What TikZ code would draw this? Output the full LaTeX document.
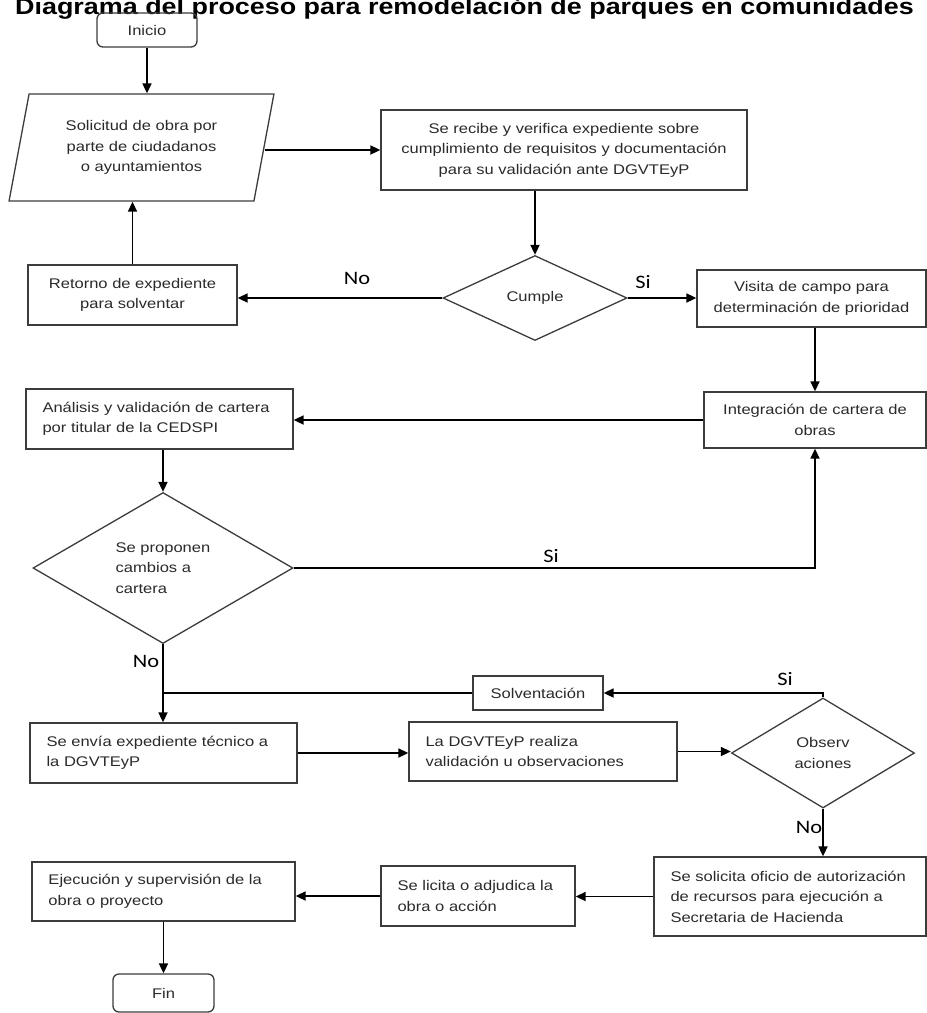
\documentclass[tikz,border=0pt]{standalone}
\usepackage{fontspec}
\setmainfont{Liberation Sans}[FakeStretch=1.18]
\newfontfamily\lblfont{Carlito}[FakeStretch=1.18]
\usepackage{tikz}
\usetikzlibrary{positioning,arrows.meta,shapes.geometric}
\definecolor{edge}{HTML}{3C3C3C}
\definecolor{ink}{HTML}{2A2A2A}

\begin{document}
\begin{tikzpicture}[
  x=1pt, y=-1pt,
  font=\fontsize{14}{20.5}\selectfont,
  proc/.style={draw=edge, line width=1.3pt, text=ink, align=center, inner sep=0pt},
  procl/.style={proc, align=left, inner xsep=16.5pt},
  term/.style={proc, rounded corners=6pt},
  decis/.style={proc, diamond, aspect=1.7},
  entrada/.style={proc, trapezium, trapezium left angle=76, trapezium right angle=104, trapezium stretches=true},
  arr/.style={-{Triangle[length=10pt,width=9pt]}, line width=1.7pt, black},
  lin/.style={line width=1.7pt, black},
  lbl/.style={font=\lblfont\fontsize{19}{19}\selectfont, anchor=base, inner sep=0pt}
]
\useasboundingbox (0,0) rectangle (927,1013);
\clip (0,0) rectangle (927,1013);
\fill[white] (0,0) rectangle (927,1013);
% title, cut by the top edge
\node[font=\bfseries\fontsize{22.8}{24}\selectfont, anchor=base west, inner sep=0pt] (titulo) at (15,14) {Diagrama del proceso para remodelación de parques en comunidades};
% top: request and check
\node[term, minimum width=100pt, minimum height=34pt] (inicio) at (147,30) {Inicio};
\node[entrada, minimum width=265pt, minimum height=107pt] (solic) at (141.5,147.5) {Solicitud de obra por\\parte de ciudadanos\\o ayuntamientos};
\node[proc, minimum width=366pt, minimum height=80pt] (recibe) at (564,150) {Se recibe y verifica expediente sobre\\cumplimiento de requisitos y documentación\\para su validación ante DGVTEyP};
\node[decis, minimum width=184pt, minimum height=85pt] (cumple) at (535,298) {Cumple};
\node[proc, minimum width=209pt, minimum height=60pt] (retorno) at (132.5,295) {Retorno de expediente\\para solventar};
\node[proc, minimum width=229pt, minimum height=57pt] (visita) at (811.5,298.5) {Visita de campo para\\determinación de prioridad};
% middle: portfolio
\node[proc, minimum width=222pt, minimum height=56pt] (integ) at (815,420) {Integración de cartera de\\obras};
\node[procl, text width=234pt, minimum height=60pt] (analisis) at (159.5,419) {Análisis y validación de cartera\\por titular de la CEDSPI};
\node[decis, align=left, minimum width=260pt, minimum height=151pt] (propone) at (163,568) {Se proponen\\cambios a\\cartera};
% lower: validation loop
\node[procl, text width=234pt, minimum height=60pt] (envia) at (163.5,753) {Se envía expediente técnico a\\la DGVTEyP};
\node[proc, minimum width=130pt, minimum height=34pt] (solvent) at (538,693) {Solventación};
\node[procl, text width=235pt, minimum height=59pt] (valida) at (543,751.5) {La DGVTEyP realiza\\validación u observaciones};
\node[decis, minimum width=183pt, minimum height=110pt] (observ) at (823,753) {Observ\\aciones};
% bottom: execution
\node[procl, text width=239pt, minimum height=79pt] (solicita) at (790,896.5) {Se solicita oficio de autorización\\de recursos para ejecución a\\Secretaria de Hacienda};
\node[procl, text width=161pt, minimum height=60pt] (licita) at (478,896) {Se licita o adjudica la\\obra o acción};
\node[procl, text width=230pt, minimum height=59pt] (ejec) at (163.5,891.5) {Ejecución y supervisión de la\\obra o proyecto};
\node[term, minimum width=101pt, minimum height=38pt] (fin) at (163.5,993) {Fin};

% labels
\node[lbl] (no1) at (357,284) {No};
\node[lbl] (si1) at (643,288) {Si};
\node[lbl] (si2) at (551,562) {Si};
\node[lbl] (no2) at (146,667) {No};
\node[lbl] (si3) at (785,685) {Si};
\node[lbl] (no3) at (809,833) {No};

\draw[arr] (inicio.south) -- (inicio.south |- solic.north);
\draw[arr] (recibe.west -| solic.east) -- (recibe.west);
\draw[arr] (recibe.south -| cumple.north) -- (cumple.north);
\draw[arr] (cumple.west) -- (cumple.west -| retorno.east);
\draw[arr] (retorno.north) -- (retorno.north |- solic.south);
\draw[arr] (cumple.east) -- (cumple.east -| visita.west);
\draw[arr] (integ.north |- visita.south) -- (integ.north);
\draw[arr] (integ.west) -- (integ.west -| analisis.east);
\draw[arr] (analisis.south -| propone.north) -- (propone.north);
\draw[arr] (propone.east) -| (integ.south);
\draw[arr] (propone.south) -- (propone.south |- envia.north);
\draw[arr] (observ.north) |- (solvent.east);
\draw[lin] (solvent.west) -- (solvent.west -| envia.north);
\draw[arr] (envia.east) -- (envia.east -| valida.west);
\draw[arr] (valida.east) -- (valida.east -| observ.west);
\draw[arr] (observ.south) -- (observ.south |- solicita.north);
\draw[arr] (solicita.west) -- (solicita.west -| licita.east);
\draw[arr] (licita.west) -- (licita.west -| ejec.east);
\draw[arr] (ejec.south) -- (ejec.south |- fin.north);
\end{tikzpicture}
\end{document}
